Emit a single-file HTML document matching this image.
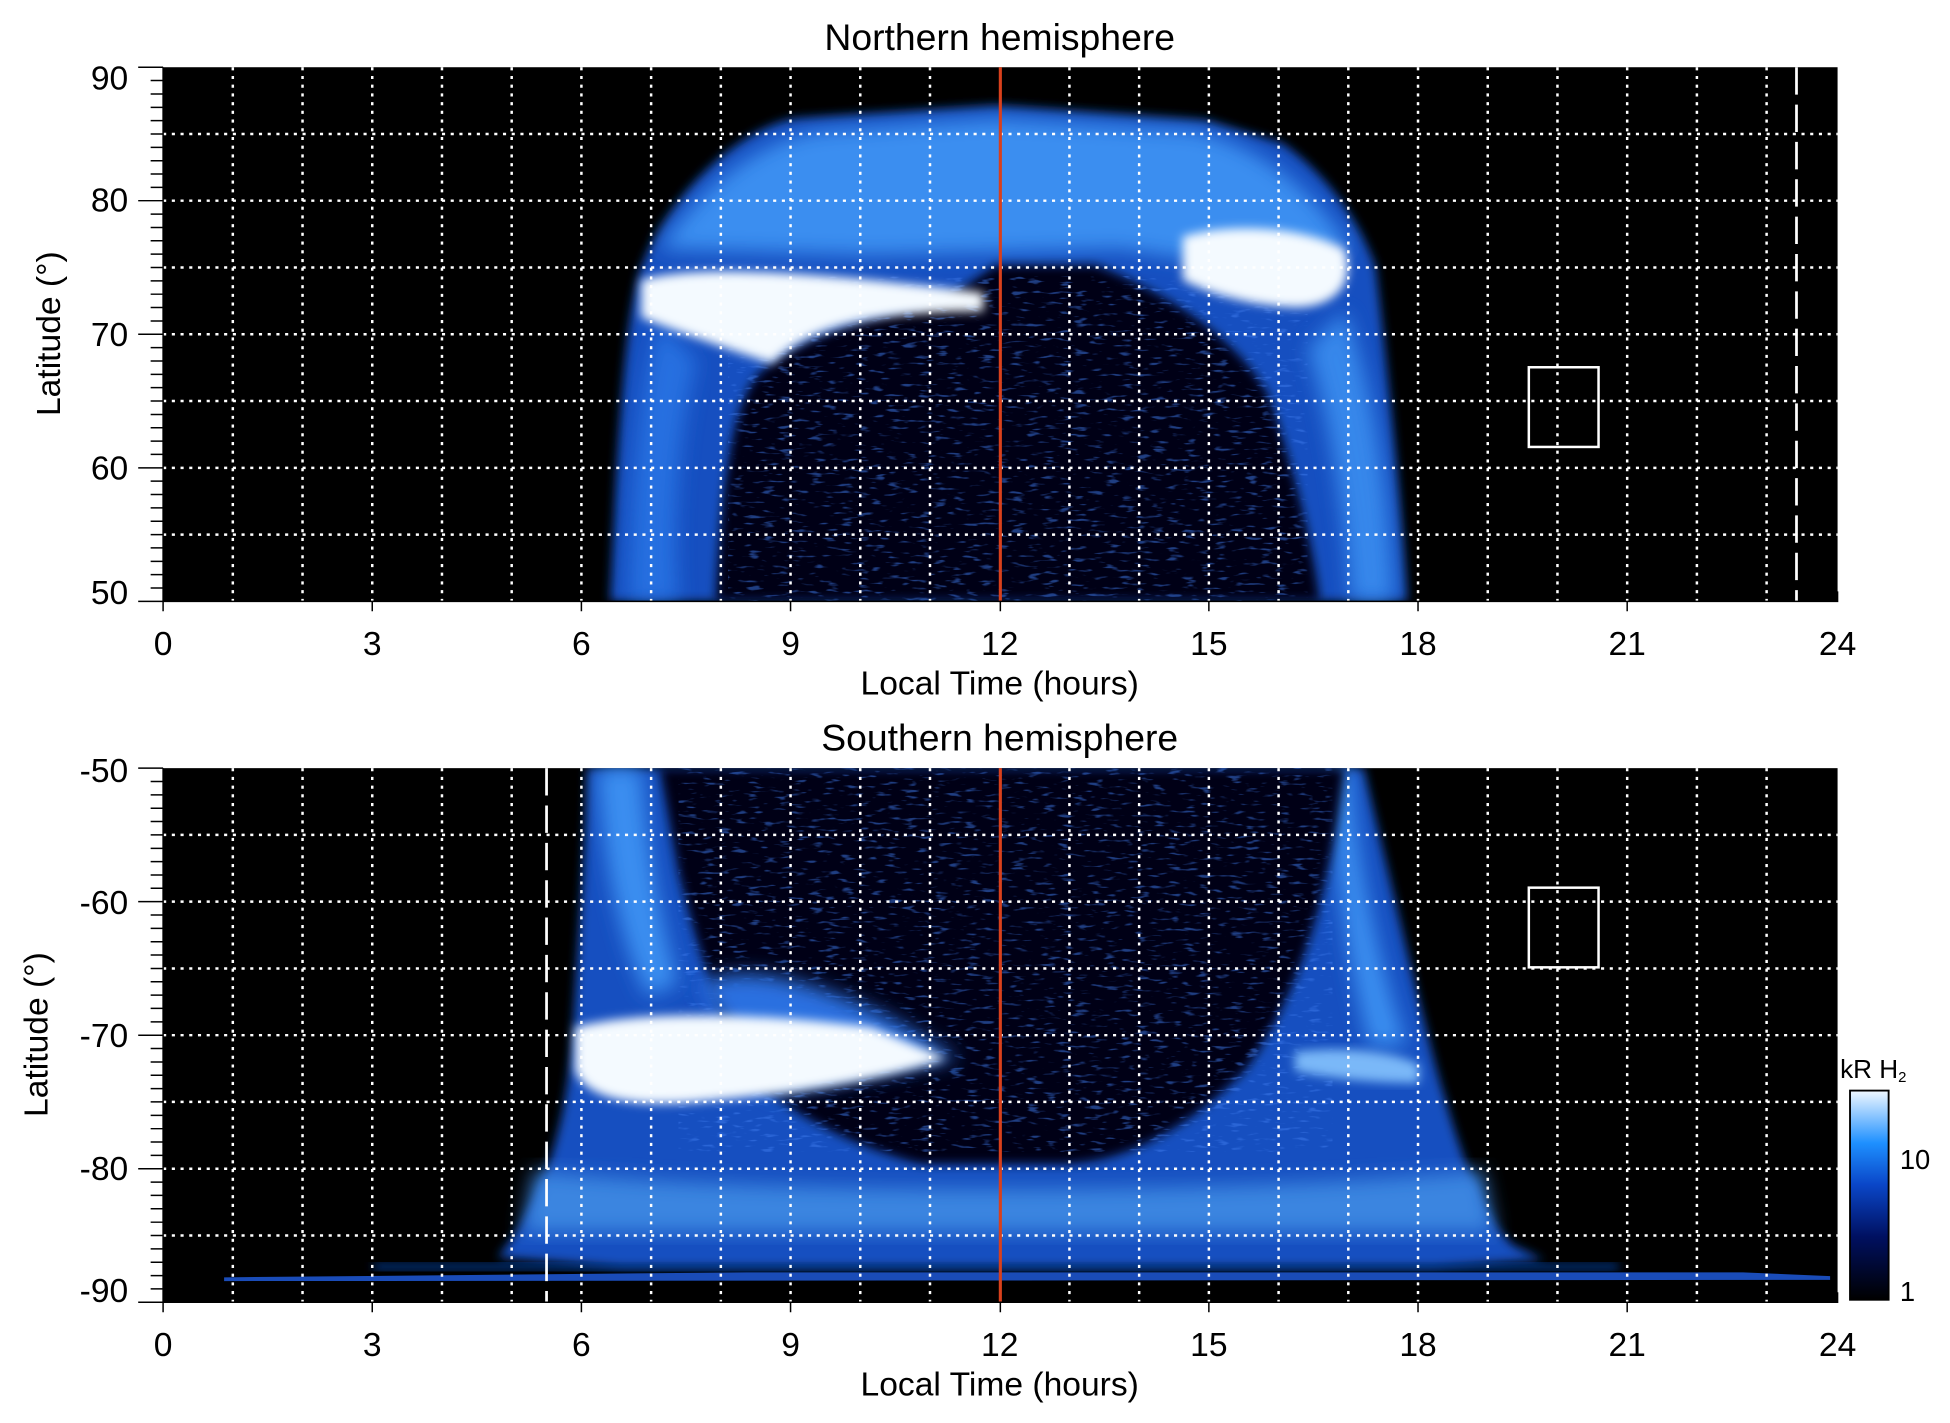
<!DOCTYPE html>
<html><head><meta charset="utf-8"><style>
html,body{margin:0;padding:0;background:#fff}
svg{display:block}
text{font-family:"Liberation Sans",sans-serif;fill:#000}
</style></head><body>
<svg width="1950" height="1423" viewBox="0 0 1566.3 1143" xmlns="http://www.w3.org/2000/svg">
<defs>
<clipPath id="c1"><rect x="131" y="54" width="1345" height="429"/></clipPath>
<clipPath id="c2"><rect x="131" y="617" width="1345" height="429"/></clipPath>
<filter id="b4" x="-20%" y="-20%" width="140%" height="140%"><feGaussianBlur stdDeviation="4"/></filter>
<filter id="b8" x="-20%" y="-20%" width="140%" height="140%"><feGaussianBlur stdDeviation="8"/></filter>
<filter id="spk" x="0" y="0" width="100%" height="100%">
<feTurbulence type="fractalNoise" baseFrequency="0.08 0.35" numOctaves="2" seed="3"/>
<feColorMatrix type="matrix" values="0 0 0 0 0.05  0 0 0 0 0.2  0 0 0 0 0.85  0 0 0 6 -3.6"/>
</filter>
<linearGradient id="cb" x1="0" y1="1" x2="0" y2="0">
<stop offset="0" stop-color="#000"/><stop offset="0.3" stop-color="#001060"/><stop offset="0.55" stop-color="#0a46c8"/><stop offset="0.75" stop-color="#1e90ff"/><stop offset="1" stop-color="#f0f8ff"/>
</linearGradient>
</defs>

<!-- TOP PANEL -->
<rect x="131" y="54" width="1345" height="429" fill="#000"/>
<g clip-path="url(#c1)">
<path d="M490,483 C495,380 500,260 515,215 C540,150 600,100 640,95 L800,85 L970,97 L1030,115 C1080,150 1100,200 1105,215 C1115,300 1125,400 1130,483 Z" fill="#1550c0" filter="url(#b4)"/>
<path d="M530,200 C570,140 620,110 660,105 L800,95 L960,105 C1020,120 1060,160 1085,200 L1000,215 L900,200 L700,205 Z" fill="#3a8ef0" filter="url(#b8)"/>
<path d="M505,483 C508,380 515,300 530,260 L560,290 C545,340 540,420 545,483 Z" fill="#2a78e8" filter="url(#b8)" opacity="0.8"/>
<path d="M1120,483 C1115,380 1100,300 1080,250 L1050,280 C1070,340 1080,420 1085,483 Z" fill="#3a8ef0" filter="url(#b8)" opacity="0.9"/>
<path d="M575,483 C580,380 590,320 610,300 C640,270 700,255 760,240 L800,213 L880,213 C950,240 1000,280 1020,320 C1040,380 1055,440 1060,483 Z" fill="#010616" filter="url(#b4)"/>
<path d="M585,483 C590,380 600,320 620,305 C660,280 720,262 770,250 L805,222 L875,222 C940,250 990,290 1010,330 C1030,390 1045,440 1050,483 Z" filter="url(#spk)" opacity="0.5"/>
<path d="M515,225 C560,212 650,218 790,235 L790,250 C700,250 650,262 620,292 C590,282 540,265 515,255 Z" fill="#f4faff" filter="url(#b4)"/>
<path d="M950,190 C990,178 1050,183 1080,200 C1090,230 1070,247 1040,247 C1000,245 970,235 950,225 Z" fill="#f4faff" filter="url(#b4)"/>
</g>

<!-- BOTTOM PANEL -->
<rect x="131" y="617" width="1345" height="429" fill="#000"/>
<g clip-path="url(#c2)">
<path d="M472,617 L1095,617 C1120,720 1150,850 1160,880 C1180,950 1195,980 1215,1000 L1240,1012 L1150,1018 L500,1018 L400,1010 C440,960 455,900 460,830 C465,750 470,680 472,617 Z" fill="#1550c0" filter="url(#b4)"/>
<path d="M430,940 C600,960 1000,960 1190,940 L1200,990 L420,990 Z" fill="#3a85e0" filter="url(#b8)"/>
<path d="M480,617 C485,700 500,760 520,800 L545,790 C530,740 520,680 515,617 Z" fill="#3a8ef0" filter="url(#b8)"/>
<path d="M1085,617 C1090,700 1110,780 1130,840 L1100,840 C1080,760 1070,690 1070,617 Z" fill="#3a8ef0" filter="url(#b8)"/>
<path d="M530,617 L1080,617 C1070,700 1050,790 1000,860 C950,910 900,935 850,935 L740,935 C680,920 630,890 610,870 C580,830 560,760 545,700 Z" fill="#010616" filter="url(#b4)"/>
<path d="M545,617 L1070,617 C1060,700 1040,780 995,850 C950,900 900,925 850,925 L745,925 C690,910 640,880 620,860 C590,820 570,760 555,700 Z" filter="url(#spk)" opacity="0.5"/>
<path d="M560,790 C600,770 660,790 720,820 L770,850 L620,880 Z" fill="#2a70e0" filter="url(#b8)"/>
<path d="M462,825 C520,810 620,815 700,825 L760,850 C700,870 620,880 560,885 C500,890 470,880 462,860 Z" fill="#f4faff" filter="url(#b4)"/>
<path d="M1040,845 C1080,840 1120,845 1140,855 L1140,870 C1100,870 1060,865 1040,860 Z" fill="#7ab8f8" filter="url(#b4)"/>
<path d="M300,1015 L1300,1015 L1300,1020 L300,1020 Z" fill="#103c9a" filter="url(#b4)"/>
<path d="M180,1026 L600,1022 L1400,1022 L1470,1025 L1470,1028 L180,1029 Z" fill="#1a4cb8"/>
</g>

<!-- grids -->
<g stroke="#fff" stroke-width="2" stroke-dasharray="2.5 4.5" fill="none">
<path d="M187,54V483M243,54V483M299,54V483M355,54V483M411,54V483M467,54V483M523,54V483M579,54V483M635,54V483M691,54V483M747,54V483M859,54V483M915,54V483M971,54V483M1027,54V483M1083,54V483M1139,54V483M1195,54V483M1251,54V483M1307,54V483M1363,54V483M1419,54V483"/>
<path d="M131,107.6H1476M131,161.2H1476M131,214.9H1476M131,268.5H1476M131,322.1H1476M131,375.8H1476M131,429.4H1476"/>
<path transform="translate(0,563)" d="M187,54V483M243,54V483M299,54V483M355,54V483M411,54V483M467,54V483M523,54V483M579,54V483M635,54V483M691,54V483M747,54V483M859,54V483M915,54V483M971,54V483M1027,54V483M1083,54V483M1139,54V483M1195,54V483M1251,54V483M1307,54V483M1363,54V483M1419,54V483"/>
<path transform="translate(0,563)" d="M131,107.6H1476M131,161.2H1476M131,214.9H1476M131,268.5H1476M131,322.1H1476M131,375.8H1476M131,429.4H1476"/>
</g>
<g stroke="#fff" stroke-width="2.2" stroke-dasharray="22 8">
<line x1="1443" y1="54" x2="1443" y2="483"/><line x1="439" y1="617" x2="439" y2="1046"/>
</g>
<g stroke="#fff" stroke-width="2" fill="none">
<rect x="1228" y="295" width="56" height="64"/><rect x="1228" y="713" width="56" height="64"/>
</g>
<g stroke="#d8401c" stroke-width="2.5"><line x1="803.5" y1="54" x2="803.5" y2="483"/><line x1="803.5" y1="617" x2="803.5" y2="1046"/></g>

<!-- axis ticks -->
<g stroke="#000" stroke-width="1.2" fill="none" id="axt">
<path d="M131,54V483H1476V475M111,54H131M111,161.2H131M111,268.5H131M111,375.8H131M111,483H131"/>
<path d="M121,64.7H131M121,75.5H131M121,86.2H131M121,96.9H131M121,107.6H131M121,118.4H131M121,129.1H131M121,139.8H131M121,150.5H131M121,172H131M121,182.7H131M121,193.4H131M121,204.1H131M121,214.9H131M121,225.6H131M121,236.3H131M121,247H131M121,257.8H131M121,279.2H131M121,290H131M121,300.7H131M121,311.4H131M121,322.1H131M121,332.9H131M121,343.6H131M121,354.3H131M121,365H131M121,386.5H131M121,397.2H131M121,407.9H131M121,418.7H131M121,429.4H131M121,440.1H131M121,450.9H131M121,461.6H131M121,472.3H131"/>
<path d="M299,483V491M467,483V491M635,483V491M803.5,483V491M971,483V491M1139,483V491M1307,483V491M131,483V491"/>
</g>
<use href="#axt" transform="translate(0,563)"/>

<!-- text -->
<g font-size="27" text-anchor="middle">
<text x="803" y="40" font-size="30">Northern hemisphere</text>
<text x="803" y="603" font-size="30">Southern hemisphere</text>
<text x="803" y="558">Local Time (hours)</text>
<text x="803" y="1121">Local Time (hours)</text>
<g id="xl"><text x="131" y="526">0</text><text x="299" y="526">3</text><text x="467" y="526">6</text><text x="635" y="526">9</text><text x="803" y="526">12</text><text x="971" y="526">15</text><text x="1139" y="526">18</text><text x="1307" y="526">21</text><text x="1476" y="526">24</text></g>
<use href="#xl" transform="translate(0,563)"/>
<text transform="translate(48,268) rotate(-90)">Latitude (°)</text>
<text transform="translate(38,831) rotate(-90)">Latitude (°)</text>
</g>
<g font-size="27" text-anchor="end">
<text x="103" y="72">90</text><text x="103" y="170">80</text><text x="103" y="278">70</text><text x="103" y="385">60</text><text x="103" y="485">50</text>
<text x="103" y="628">-50</text><text x="103" y="734">-60</text><text x="103" y="841">-70</text><text x="103" y="948">-80</text><text x="103" y="1046">-90</text>
</g>

<!-- colorbar -->
<rect x="1486" y="876" width="31" height="168" fill="url(#cb)" stroke="#000" stroke-width="1.5"/>
<text x="1478" y="866" font-size="21">kR H<tspan font-size="12" dy="3">2</tspan></text>
<text x="1526" y="939" font-size="22">10</text>
<text x="1526" y="1045" font-size="22">1</text>
</svg>
</body></html>
